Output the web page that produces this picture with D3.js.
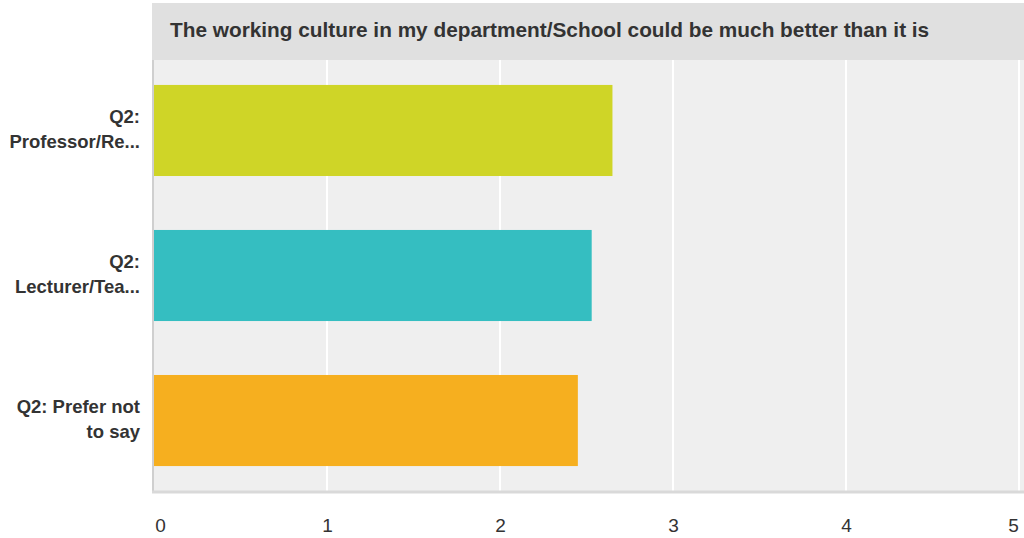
<!DOCTYPE html>
<html><head><meta charset="utf-8">
<script src="https://cdn.jsdelivr.net/npm/d3@7"></script>
<style>body{margin:0;background:#fff;} svg{display:block;font-family:"Liberation Sans",Arial,sans-serif;}</style>
</head><body>
<svg id="c" width="1024" height="538"></svg>
<script>
const title = "The working culture in my department/School could be much better than it is";
const categories = ["Q2: Professor/Re...", "Q2: Lecturer/Tea...", "Q2: Prefer not to say"];
const labelLines = [["Q2:", "Professor/Re..."], ["Q2:", "Lecturer/Tea..."], ["Q2: Prefer not", "to say"]];
const values = [2.65, 2.53, 2.45];
const colors = ["#cfd527", "#35bec1", "#f6af1f"];
const ticks = [0, 1, 2, 3, 4, 5];

const svg = d3.select("#c");
const x = d3.scaleLinear().domain([0, 5]).range([154, 1019]);
const y = d3.scaleBand().domain(categories).range([60, 491]).paddingInner(0.372).paddingOuter(0.172);

// title band
svg.append("rect").attr("x", 152).attr("y", 3).attr("width", 872).attr("height", 57).attr("fill", "#e0e0e0");
svg.append("text").attr("x", 170).attr("y", 37).attr("font-size", 20.8).attr("font-weight", "bold").attr("fill", "#333").text(title);

// plot bg
svg.append("rect").attr("x", 154).attr("y", 60).attr("width", 870).attr("height", 431).attr("fill", "#efefef");

// gridlines
svg.append("g").selectAll("line").data(ticks.slice(1)).join("line")
  .attr("x1", d => x(d)).attr("x2", d => x(d)).attr("y1", 60).attr("y2", 491)
  .attr("stroke", "#fff").attr("stroke-width", 2);

// bars
svg.append("g").selectAll("rect").data(values).join("rect")
  .attr("x", x(0)).attr("y", (d, i) => y(categories[i]))
  .attr("width", d => x(d) - x(0)).attr("height", y.bandwidth())
  .attr("fill", (d, i) => colors[i]);

// axes lines
svg.append("line").attr("x1", 153).attr("x2", 153).attr("y1", 60).attr("y2", 492).attr("stroke", "#cfcfcf").attr("stroke-width", 2);
svg.append("line").attr("x1", 152).attr("x2", 1024).attr("y1", 492).attr("y2", 492).attr("stroke", "#d9d9d9").attr("stroke-width", 3);

// x tick labels
const xa = svg.append("g").attr("transform", "translate(0,513)")
  .call(d3.axisBottom(x).tickValues(ticks).tickSize(0).tickPadding(0).tickFormat(d3.format("d")));
xa.select(".domain").remove();
xa.selectAll("text").attr("font-size", 19).attr("fill", "#333").attr("font-family", "'Liberation Sans',Arial,sans-serif")
  .attr("dy", "1em").attr("dx", (d, i) => i === 0 ? 6 : (i === 5 ? -6 : 0));

// category labels
const lg = svg.append("g");
categories.forEach((c, i) => {
  const cy = y(c) + y.bandwidth() / 2;
  const lines = labelLines[i];
  const t = lg.append("text").attr("text-anchor", "end").attr("font-size", 18.5).attr("font-weight", "bold").attr("fill", "#333");
  lines.forEach((ln, j) => {
    t.append("tspan").attr("x", 140).attr("y", cy - 8 + (j - (lines.length - 1) / 2) * 25 + 13).text(ln);
  });
});
</script>
</body></html>
